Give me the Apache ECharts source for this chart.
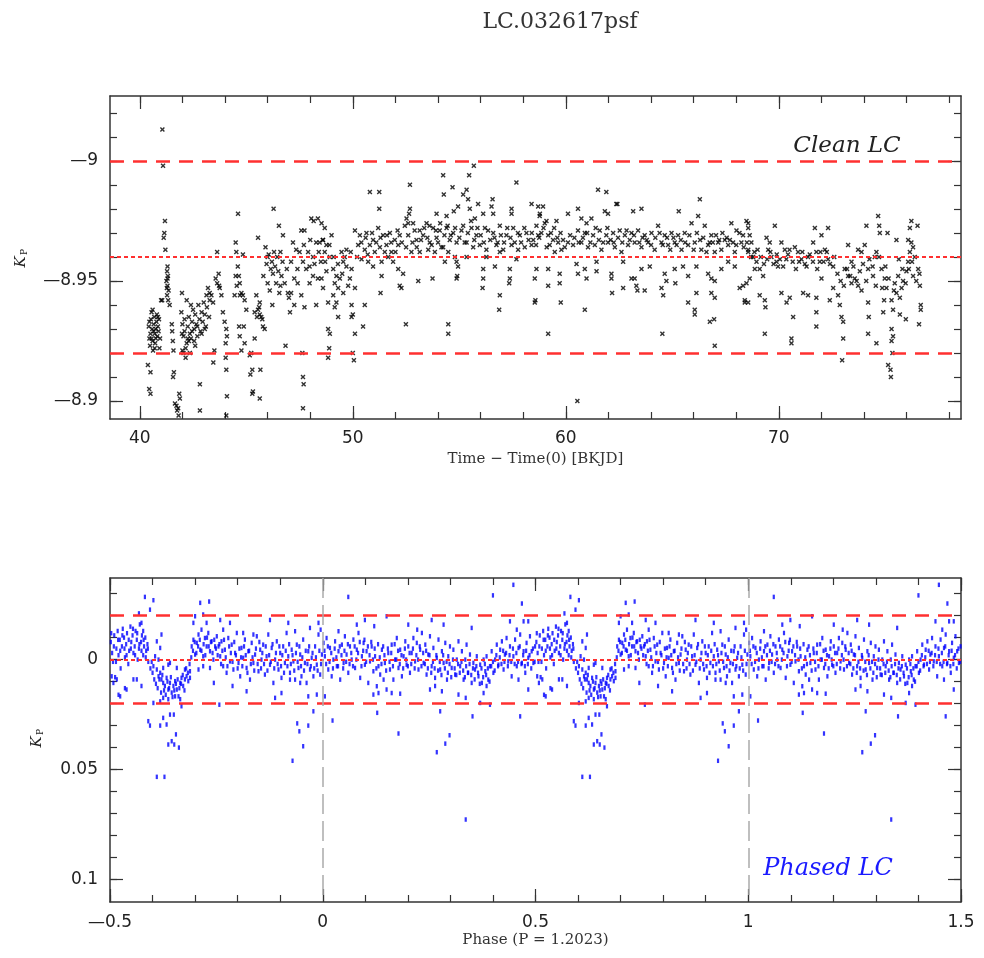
<!DOCTYPE html>
<html>
<head>
<meta charset="utf-8">
<script src="https://cdn.jsdelivr.net/npm/echarts@6/dist/echarts.min.js"></script>
<style>
  html, body { margin: 0; padding: 0; background: #fff; }
  #main { width: 984px; height: 958px; }
</style>
</head>
<body>
<div id="main"></div>
<script>
// 数据：光变曲线 (时间, 星等)
const cleanLC = [
  [40.42,-8.931],[40.45,-8.926],[40.48,-8.923],[40.5,-8.928],[40.52,-8.934],[40.55,-8.937],[40.58,-8.930],[40.6,-8.925],[40.62,-8.921],[40.65,-8.932],[40.68,-8.935],[40.7,-8.928],[40.72,-8.924],[40.75,-8.930],[40.78,-8.933],[40.8,-8.936],[40.82,-8.927],[40.85,-8.931],[40.88,-8.929],[40.9,-8.934],[40.92,-8.922],[40.95,-8.926],[40.6,-8.938],[40.7,-8.922],
  [40.55,-8.926],[40.65,-8.929],[40.75,-8.926],[40.85,-8.935],[40.45,-8.933],
  [40.38,-8.915],[40.5,-8.912],[40.44,-8.905],[40.5,-8.903],
  [41.06,-9.013],[41.09,-8.998],[41.18,-8.975],[41.15,-8.970],[41.12,-8.968],[41.2,-8.963],
  [41.28,-8.954],[41.32,-8.952],[41.25,-8.950],[41.3,-8.948],[41.35,-8.946],[41.28,-8.944],[41.33,-8.942],[41.3,-8.956],[41.4,-8.940],[41.0,-8.942],[41.05,-8.942],[41.3,-8.951],[41.27,-8.947],
  [41.5,-8.932],[41.52,-8.929],[41.55,-8.925],[41.58,-8.921],[41.6,-8.912],[41.56,-8.910],
  [41.65,-8.899],[41.72,-8.898],[41.8,-8.897],[41.85,-8.903],[41.88,-8.901],[41.75,-8.896],[41.82,-8.894],
  [41.95,-8.937],[42.0,-8.932],[42.05,-8.927],[42.1,-8.929],[42.15,-8.922],[42.2,-8.924],[42.25,-8.931],[42.3,-8.935],[42.35,-8.928],[42.4,-8.926],[42.45,-8.933],[42.5,-8.938],[42.55,-8.930],[42.6,-8.936],[42.65,-8.932],[42.7,-8.927],[42.75,-8.940],[42.8,-8.934],[42.85,-8.929],[42.9,-8.937],[42.95,-8.933],[43.0,-8.941],[43.05,-8.936],[43.1,-8.931],[43.15,-8.939],[43.25,-8.935],[42.05,-8.920],[42.15,-8.918],[42.0,-8.921],[42.3,-8.925],[42.6,-8.923],[42.4,-8.940],[42.2,-8.942],[41.98,-8.945],
  [42.1,-8.934],[42.25,-8.926],[42.45,-8.929],[42.55,-8.925],[42.7,-8.931],[42.9,-8.928],[43.05,-8.930],[41.98,-8.928],[42.35,-8.920],
  [42.82,-8.907],[42.82,-8.896],[43.45,-8.916],[43.5,-8.921],
  [43.2,-8.947],[43.28,-8.945],[43.36,-8.944],[43.44,-8.941],[43.13,-8.944],[43.28,-8.942],
  [43.63,-8.962],[43.7,-8.953],[43.56,-8.951],[43.63,-8.949],[43.72,-8.948],[43.75,-8.947],[43.83,-8.944],
  [43.9,-8.937],[43.98,-8.933],[44.06,-8.930],[44.09,-8.927],[44.03,-8.924],[44.03,-8.918],[44.06,-8.913],[44.09,-8.902],[44.06,-8.894],
  [44.5,-8.966],[44.53,-8.962],[44.6,-8.956],[44.5,-8.952],[44.69,-8.949],[44.77,-8.945],[44.84,-8.944],[44.92,-8.942],[44.45,-8.944],[44.84,-8.961],[44.61,-8.978],[44.55,-8.948],[44.65,-8.952],[44.7,-8.944],
  [44.66,-8.931],[44.69,-8.927],[44.77,-8.921],[44.92,-8.924],[44.88,-8.931],[45.0,-8.938],
  [45.16,-8.919],[45.23,-8.920],[45.28,-8.913],[45.19,-8.911],[45.31,-8.904],[45.28,-8.903],[45.39,-8.926],[45.47,-8.944],[45.55,-8.938],[45.63,-8.936],[45.7,-8.935],[45.78,-8.931],[45.86,-8.930],[45.39,-8.937],[45.63,-8.941],[45.55,-8.968],[45.66,-8.913],[45.63,-8.901],[45.6,-8.939],[45.75,-8.934],[45.5,-8.935],
  [45.9,-8.964],[46.05,-8.961],[46.2,-8.958],[46.35,-8.956],[46.5,-8.954],[46.65,-8.952],[46.8,-8.949],[45.95,-8.957],[46.25,-8.953],[46.4,-8.949],[46.15,-8.955],[46.6,-8.962],[46.7,-8.958],[46.0,-8.960],[46.45,-8.960],[46.1,-8.946],[46.55,-8.945],
  [46.28,-8.980],[46.53,-8.973],[46.72,-8.969],[46.22,-8.940],[46.84,-8.923],[46.95,-8.945],[47.0,-8.943],[47.05,-8.937],
  [47.19,-8.966],[47.34,-8.963],[47.5,-8.962],[47.66,-8.958],[47.81,-8.955],[47.97,-8.956],[48.13,-8.960],[48.28,-8.966],[48.44,-8.966],[48.59,-8.967],[47.58,-8.971],[47.73,-8.971],[48.05,-8.976],[48.16,-8.975],[48.36,-8.976],[47.25,-8.951],[47.41,-8.949],[47.58,-8.944],[47.73,-8.939],[47.97,-8.949],[48.13,-8.952],[48.36,-8.951],[48.28,-8.940],[47.1,-8.945],[47.25,-8.940],[47.63,-8.920],[47.66,-8.910],[47.69,-8.907],[47.66,-8.897],[47.9,-8.962],[48.5,-8.958],
  [45.8,-8.952],[46.0,-8.949],[46.3,-8.962],[46.6,-8.948],[46.9,-8.955],[47.1,-8.958],[47.4,-8.955],[47.7,-8.965],[48.0,-8.967],[48.2,-8.957],[48.4,-8.962],[48.7,-8.958],[48.9,-8.965],[49.1,-8.960],[49.3,-8.957],[49.5,-8.953],[49.7,-8.956],[49.9,-8.962],
  [48.53,-8.974],[48.68,-8.972],[48.6,-8.967],[48.76,-8.965],[49.0,-8.969],[48.68,-8.962],[48.92,-8.960],[48.53,-8.951],[48.6,-8.947],[48.76,-8.954],[49.08,-8.955],[49.23,-8.952],[49.39,-8.951],[49.55,-8.958],[49.7,-8.963],[49.47,-8.962],[49.62,-8.960],[49.15,-8.949],[49.31,-8.947],[49.08,-8.944],[49.23,-8.941],[49.15,-8.939],[48.84,-8.941],[49.55,-8.945],[49.86,-8.951],[49.78,-8.948],[49.94,-8.955],[50.1,-8.947],[49.31,-8.935],[48.84,-8.930],[48.92,-8.928],[48.89,-8.922],[48.84,-8.918],[49.94,-8.940],[50.0,-8.936],[49.94,-8.935],[50.1,-8.928],[50.0,-8.920],[50.05,-8.917],[50.48,-8.931],[50.56,-8.940],
  [50.1,-8.971],[50.33,-8.969],[50.64,-8.970],[50.95,-8.967],[51.19,-8.972],[51.42,-8.969],[51.74,-8.970],[51.97,-8.967],[52.2,-8.969],[50.25,-8.965],[50.56,-8.963],[50.8,-8.965],[51.03,-8.962],[51.27,-8.964],[51.58,-8.965],[51.81,-8.962],[52.13,-8.965],[50.41,-8.959],[50.72,-8.958],[50.95,-8.956],[51.35,-8.958],[51.66,-8.960],[51.89,-8.958],[50.8,-8.987],[51.24,-8.987],[51.24,-8.980],[51.35,-8.952],[51.3,-8.945],[52.2,-8.948],[52.28,-8.947],[52.49,-8.932],[52.68,-8.990],[52.68,-8.980],[52.64,-8.978],[52.6,-8.974],[52.13,-8.955],[52.36,-8.953],[52.44,-8.973],
  [50.2,-8.960],[50.4,-8.966],[50.6,-8.968],[50.7,-8.961],[50.9,-8.970],[51.1,-8.966],[51.3,-8.968],[51.5,-8.962],[51.6,-8.969],[51.8,-8.966],[52.0,-8.962],[52.1,-8.971],[52.3,-8.966],[52.5,-8.964],[52.6,-8.969],[52.8,-8.966],[52.9,-8.971],
  [52.83,-8.974],[53.14,-8.971],[53.46,-8.974],[53.77,-8.972],[54.08,-8.971],[54.4,-8.972],[54.71,-8.970],[52.99,-8.967],[53.3,-8.969],[53.61,-8.966],[53.93,-8.968],[54.24,-8.964],[54.55,-8.967],[54.87,-8.966],[52.75,-8.962],[53.14,-8.962],[53.54,-8.963],[53.85,-8.962],[54.16,-8.964],[54.48,-8.962],[53.07,-8.950],[53.74,-8.951],[53.93,-8.978],[54.24,-8.994],[54.27,-8.986],[54.68,-8.989],[54.4,-8.977],[54.74,-8.979],[54.94,-8.981],[54.32,-8.958],[54.87,-8.958],[54.9,-8.952],[54.48,-8.932],[54.48,-8.928],[52.52,-8.976],
  [53.0,-8.964],[53.2,-8.967],[53.35,-8.972],[53.5,-8.968],[53.6,-8.973],[53.7,-8.965],[53.9,-8.971],[54.0,-8.966],[54.1,-8.974],[54.3,-8.969],[54.45,-8.973],[54.6,-8.969],[54.8,-8.972],[55.0,-8.968],
  [55.18,-8.986],[55.46,-8.994],[55.68,-8.998],[55.34,-8.988],[55.41,-8.984],[55.49,-8.980],[55.88,-8.982],[55.73,-8.976],[56.12,-8.978],[56.56,-8.984],[56.51,-8.981],[56.59,-8.978],[55.18,-8.973],[55.57,-8.972],[55.8,-8.969],[56.2,-8.972],[56.59,-8.970],[56.9,-8.973],[57.21,-8.969],[57.53,-8.972],[57.84,-8.969],[58.15,-8.970],[58.47,-8.967],[55.34,-8.966],[55.65,-8.964],[55.96,-8.965],[56.27,-8.963],[56.74,-8.965],[57.06,-8.963],[57.45,-8.965],[57.76,-8.963],[58.07,-8.964],[58.39,-8.965],[58.7,-8.969],[55.34,-8.960],[56.27,-8.960],[56.9,-8.962],[57.68,-8.959],[56.12,-8.955],[56.09,-8.947],[56.12,-8.951],[56.67,-8.956],[56.9,-8.944],[56.87,-8.938],[57.37,-8.955],[57.37,-8.951],[57.34,-8.949],[57.68,-8.991],[57.45,-8.980],[57.45,-8.978],[58.39,-8.982],[58.78,-8.978],[58.54,-8.941],[54.87,-8.951],[54.94,-8.956],[54.79,-8.960],
  [55.1,-8.971],[55.25,-8.966],[55.4,-8.970],[55.55,-8.975],[55.7,-8.967],[55.85,-8.972],[56.0,-8.969],[56.15,-8.966],[56.35,-8.971],[56.45,-8.967],[56.65,-8.968],[56.8,-8.966],[56.95,-8.969],[57.1,-8.966],[57.25,-8.972],[57.4,-8.968],[57.6,-8.966],[57.75,-8.970],[57.9,-8.966],[58.05,-8.972],[58.25,-8.967],[58.4,-8.970],[58.6,-8.965],[58.75,-8.968],
  [58.7,-8.981],[58.93,-8.981],[58.77,-8.977],[59.01,-8.974],[58.62,-8.973],[58.85,-8.970],[59.17,-8.969],[59.4,-8.967],[59.64,-8.966],[59.87,-8.967],[60.1,-8.966],[60.34,-8.965],[59.24,-8.965],[59.48,-8.962],[59.79,-8.963],[59.09,-8.975],[59.56,-8.975],[60.1,-8.978],[60.57,-8.980],[60.73,-8.976],[60.97,-8.974],[61.2,-8.976],[61.51,-8.988],[61.83,-8.979],[61.98,-8.978],[62.37,-8.982],
  [58.95,-8.972],[59.1,-8.964],[59.3,-8.970],[59.45,-8.972],[59.6,-8.968],[59.75,-8.970],[59.95,-8.964],[60.2,-8.969],[60.4,-8.968],[60.6,-8.966],[60.8,-8.968],[61.0,-8.970],[61.15,-8.966],[61.4,-8.972],[61.55,-8.967],[61.75,-8.966],[61.95,-8.972],[62.1,-8.967],[62.25,-8.966],[62.45,-8.968],[62.65,-8.966],[62.85,-8.971],
  [60.57,-8.971],[60.89,-8.970],[61.28,-8.969],[61.59,-8.971],[61.9,-8.969],[62.22,-8.970],[62.53,-8.971],[62.77,-8.969],[63.08,-8.970],[63.39,-8.971],[63.7,-8.969],[64.02,-8.970],[64.33,-8.973],[64.64,-8.969],[64.96,-8.970],[65.27,-8.969],[65.58,-8.970],[65.9,-8.974],[66.21,-8.977],[66.52,-8.973],[66.83,-8.969],[67.15,-8.966],[67.46,-8.967],[67.77,-8.974],[68.01,-8.971],[68.32,-8.969],[68.56,-8.974],
  [60.73,-8.966],[61.04,-8.964],[61.36,-8.965],[61.67,-8.963],[61.98,-8.966],[62.3,-8.964],[62.61,-8.962],[62.92,-8.965],[63.23,-8.966],[63.55,-8.964],[63.86,-8.966],[64.17,-8.963],[64.49,-8.966],[64.8,-8.965],[65.11,-8.966],[65.43,-8.963],[65.74,-8.965],[66.05,-8.966],[66.36,-8.963],[66.68,-8.965],[66.99,-8.962],[67.3,-8.963],[67.62,-8.965],[67.93,-8.962],[68.24,-8.966],[68.56,-8.963],
  [63.0,-8.967],[63.2,-8.969],[63.45,-8.966],[63.6,-8.968],[63.8,-8.967],[64.0,-8.965],[64.2,-8.968],[64.4,-8.970],[64.55,-8.965],[64.75,-8.968],[64.9,-8.963],[65.05,-8.968],[65.2,-8.965],[65.4,-8.967],[65.6,-8.966],[65.8,-8.969],[66.0,-8.963],[66.15,-8.970],[66.3,-8.967],[66.45,-8.968],[66.6,-8.962],[66.75,-8.966],[66.9,-8.966],[67.05,-8.969],[67.2,-8.967],[67.35,-8.970],[67.55,-8.968],[67.7,-8.967],[67.85,-8.966],[68.0,-8.965],[68.15,-8.970],[68.35,-8.964],
  [61.9,-8.987],[62.42,-8.982],[63.16,-8.979],[63.55,-8.980],[65.3,-8.979],[66.29,-8.984],[58.62,-8.955],[58.54,-8.951],[58.57,-8.942],[59.17,-8.955],[59.17,-8.948],[59.71,-8.953],[59.71,-8.949],[59.76,-8.941],[59.17,-8.928],[60.5,-8.957],[60.57,-8.953],[60.89,-8.955],[60.97,-8.951],[60.89,-8.938],[61.44,-8.958],[61.44,-8.954],[62.14,-8.953],[62.14,-8.951],[62.17,-8.945],[62.69,-8.958],[62.69,-8.947],[63.08,-8.951],[63.23,-8.951],[63.31,-8.948],[63.36,-8.946],[63.7,-8.946],[63.55,-8.955],[63.94,-8.956],[64.49,-8.947],[64.57,-8.944],[64.53,-8.928],[64.64,-8.953],[64.72,-8.950],[65.11,-8.955],[65.14,-8.949],[65.5,-8.956],[65.74,-8.952],[65.74,-8.941],[66.05,-8.938],[66.05,-8.936],[66.13,-8.945],[66.13,-8.956],[66.68,-8.953],[66.83,-8.951],[66.99,-8.950],[66.83,-8.945],[66.99,-8.943],[66.76,-8.933],[66.96,-8.934],[66.99,-8.923],[67.3,-8.955],[67.62,-8.958],[67.93,-8.956],[68.16,-8.947],[68.32,-8.948],[68.4,-8.942],[68.56,-8.941],[60.54,-8.900],
  [68.48,-8.975],[68.56,-8.972],[68.63,-8.969],[68.71,-8.966],[68.56,-8.962],[68.79,-8.960],[68.95,-8.958],[69.1,-8.955],[69.26,-8.952],[68.87,-8.955],[68.63,-8.951],[68.48,-8.949],[68.4,-8.941],[69.1,-8.944],[69.34,-8.942],[69.37,-8.939],[69.34,-8.928],[69.42,-8.968],[69.57,-8.966],[69.5,-8.963],[69.65,-8.960],[69.81,-8.973],[69.89,-8.958],[69.96,-8.956],[70.12,-8.966],[70.28,-8.963],[70.43,-8.961],[70.12,-8.945],[70.36,-8.941],[70.51,-8.943],[70.67,-8.935],[70.59,-8.926],[70.59,-8.924],
  [68.5,-8.966],[68.7,-8.960],[68.85,-8.962],[69.0,-8.963],[69.15,-8.960],[69.3,-8.957],[69.45,-8.959],[69.6,-8.962],[69.75,-8.957],[69.9,-8.961],[70.05,-8.959],[70.2,-8.956],[70.35,-8.959],[70.5,-8.963],[70.65,-8.958],[70.8,-8.955],[70.95,-8.958],[71.1,-8.962],[71.3,-8.956],[71.45,-8.961],[71.6,-8.958],[71.8,-8.955],[71.95,-8.962],[72.1,-8.958],[72.25,-8.962],[72.4,-8.957],[72.6,-8.960],
  [70.75,-8.964],[70.9,-8.962],[71.06,-8.959],[71.22,-8.957],[71.37,-8.960],[71.14,-8.945],[71.37,-8.944],[71.69,-8.972],[71.61,-8.966],[71.76,-8.962],[72.0,-8.969],[72.31,-8.972],[72.16,-8.963],[71.92,-8.958],[71.76,-8.943],[71.76,-8.937],[71.76,-8.931],[72.0,-8.951],[72.31,-8.959],[72.55,-8.956],[72.39,-8.942],[72.55,-8.947],[72.78,-8.944],[72.86,-8.940],[72.94,-8.935],[73.02,-8.933],[73.02,-8.926],[72.97,-8.917],
  [73.09,-8.955],[73.25,-8.952],[73.41,-8.949],[73.56,-8.951],[73.72,-8.948],[73.88,-8.946],[73.41,-8.958],[73.72,-8.963],[73.88,-8.962],[73.25,-8.965],[74.03,-8.965],[74.11,-8.973],[74.19,-8.955],[74.19,-8.941],[74.22,-8.935],[74.19,-8.928],[74.42,-8.952],[74.5,-8.960],[74.58,-8.962],[74.66,-8.977],[74.71,-8.973],[74.74,-8.970],[75.1,-8.970],[74.82,-8.955],[74.97,-8.951],[75.05,-8.947],[74.94,-8.942],[74.9,-8.937],[74.58,-8.924],
  [72.75,-8.953],[72.9,-8.950],[73.05,-8.948],[73.2,-8.955],[73.35,-8.952],[73.5,-8.956],[73.65,-8.950],[73.8,-8.954],[73.95,-8.957],[74.1,-8.950],[74.25,-8.959],[74.4,-8.956],[74.55,-8.948],[74.7,-8.960],[74.85,-8.947],[75.0,-8.956],[75.15,-8.951],[75.4,-8.946],[75.6,-8.952],[75.8,-8.955],[75.95,-8.949],[76.1,-8.955],[76.25,-8.958],[76.45,-8.950],[76.6,-8.953],
  [75.29,-8.942],[75.36,-8.938],[75.29,-8.930],[75.36,-8.927],[75.29,-8.925],[75.33,-8.920],[75.13,-8.915],[75.24,-8.913],[75.26,-8.910],[75.52,-8.967],[75.63,-8.959],[75.44,-8.949],[75.52,-8.945],[75.68,-8.943],[75.76,-8.947],[75.68,-8.936],[75.96,-8.934],[75.83,-8.950],[75.99,-8.954],[76.07,-8.958],[76.15,-8.962],[76.07,-8.967],[76.22,-8.966],[76.3,-8.964],[76.15,-8.972],[76.22,-8.975],[76.51,-8.973],[76.38,-8.960],[76.54,-8.955],[76.62,-8.948],[76.66,-8.940],[76.66,-8.938],[76.58,-8.932],[76.3,-8.952]
];

// 相位折叠后的光变曲线 (相位 -0.5..0.5, 星等残差)
const phasedLC = [
  [-0.498,-0.008],[-0.495,-0.003],[-0.493,0.001],[-0.49,-0.011],[-0.488,0.008],[-0.485,-0.005],[-0.482,-0.013],[-0.48,-0.002],[-0.477,-0.009],[-0.475,0.004],[-0.472,-0.006],[-0.47,-0.014],[-0.467,-0.01],[-0.465,-0.001],[-0.462,-0.007],[-0.46,-0.012],[-0.457,0.002],[-0.455,-0.004],[-0.452,-0.015],[-0.45,-0.008],[-0.447,-0.011],[-0.445,-0.003],[-0.442,-0.006],[-0.44,-0.013],[-0.437,-0.009],[-0.435,0.0],[-0.432,-0.005],[-0.43,-0.016],[-0.427,-0.008],[-0.425,-0.011],[-0.422,-0.002],[-0.42,-0.006],[-0.417,-0.01],[-0.415,-0.004],[-0.412,-0.007],[-0.41,0.001],
  [-0.497,-0.012],[-0.491,-0.006],[-0.486,0.001],[-0.481,-0.009],[-0.476,-0.004],[-0.471,-0.011],[-0.466,-0.005],[-0.461,-0.002],[-0.456,-0.009],[-0.451,-0.005],[-0.446,-0.014],[-0.441,-0.002],[-0.436,-0.012],[-0.431,-0.007],[-0.426,-0.004],[-0.421,-0.009],[-0.416,-0.001],[-0.411,-0.005],
  [-0.418,-0.0285],[-0.398,-0.027],[-0.406,-0.0227],[-0.432,-0.021],[-0.426,-0.0167],[-0.422,-0.013],[-0.484,0.009],[-0.476,0.0167],[-0.48,0.016],[-0.465,0.013],[-0.461,0.0136],[-0.445,0.009],[-0.437,0.009],[-0.426,0.012],[-0.496,0.0076],[-0.492,0.0106],
  [-0.402,0.001],[-0.398,0.003],[-0.39,0.0045],[-0.386,0.0076],[-0.382,0.006],[-0.379,0.009],[-0.375,0.0106],[-0.371,0.012],[-0.367,0.0083],[-0.363,0.0136],[-0.359,0.0106],[-0.355,0.015],[-0.351,0.012],[-0.347,0.0098],[-0.343,0.0136],[-0.339,0.0167],[-0.335,0.0106],[-0.332,0.0083],[-0.328,0.012],[-0.324,0.009],[-0.32,0.0076],[-0.316,0.0098],[-0.312,0.0083],[-0.375,0.0174],[-0.363,0.018],[-0.347,0.0167],[-0.335,0.018],[-0.332,0.0212],[-0.398,0.0197],[-0.382,0.019],[-0.386,0.0],[-0.375,0.0038],[-0.394,-0.0015],[-0.382,-0.0053],[-0.39,-0.0083],[-0.379,-0.0114],[-0.363,0.0023],[-0.343,0.0038],[-0.324,0.0045],[-0.312,0.0053],[-0.359,0.0015],
  [-0.405,0.004],[-0.4,0.006],[-0.396,0.009],[-0.392,0.011],[-0.388,0.013],[-0.384,0.009],[-0.38,0.015],[-0.377,0.007],[-0.373,0.014],[-0.369,0.016],[-0.365,0.01],[-0.361,0.013],[-0.357,0.008],[-0.353,0.017],[-0.349,0.014],[-0.345,0.011],[-0.341,0.009],[-0.337,0.013],[-0.333,0.011],[-0.329,0.007],[-0.325,0.014],[-0.321,0.004],[-0.317,0.006],[-0.313,0.002],
  [-0.41,0.028],[-0.406,0.03],[-0.382,0.03],[-0.375,0.0265],[-0.367,0.0295],[-0.359,0.025],[-0.35,0.025],[-0.345,0.034],[-0.363,0.0386],[-0.355,0.0371],[-0.349,0.0386],[-0.338,0.04],[-0.39,0.0533],[-0.372,0.0533],
  [-0.308,-0.006],[-0.304,-0.009],[-0.3,-0.0023],[-0.296,-0.0076],[-0.292,-0.0114],[-0.288,-0.0045],[-0.285,-0.0136],[-0.281,-0.0015],[-0.277,-0.0098],[-0.273,-0.006],[-0.269,-0.0121],[-0.265,-0.0038],[-0.261,-0.0083],[-0.257,0.0],[-0.253,-0.006],[-0.249,-0.0106],[-0.304,-0.0167],[-0.3,-0.0197],[-0.288,-0.0258],[-0.267,-0.0264],[-0.281,-0.0205],[-0.273,-0.0167],[-0.292,0.0045],[-0.281,0.003],[-0.265,0.0038],[-0.256,0.0106],[-0.243,0.0205],
  [-0.309,-0.001],[-0.305,-0.004],[-0.301,-0.008],[-0.297,-0.003],[-0.293,-0.006],[-0.289,-0.009],[-0.285,-0.004],[-0.28,-0.007],[-0.276,-0.002],[-0.272,-0.01],[-0.268,-0.006],[-0.263,-0.008],[-0.259,-0.003],[-0.255,-0.009],[-0.251,-0.005],
  [-0.245,-0.006],[-0.241,-0.0015],[-0.238,-0.0083],[-0.234,0.003],[-0.23,-0.0045],[-0.226,0.006],[-0.222,-0.0098],[-0.218,0.0008],[-0.214,-0.0068],[-0.21,0.0045],[-0.206,-0.003],[-0.202,-0.0121],[-0.198,0.0015],[-0.194,0.0076],[-0.191,-0.0053],[-0.187,-0.0008],[-0.183,-0.0091],[-0.179,0.0038],[-0.175,-0.0038],[-0.171,0.0091],[-0.167,-0.0076],[-0.163,0.0015],[-0.159,-0.0023],[-0.155,-0.0106],[-0.151,0.0053],[-0.147,-0.0045],[-0.144,0.0],[-0.14,-0.0068],[-0.136,0.0068],[-0.132,-0.0015],[-0.128,-0.0114],[-0.124,0.0023],[-0.12,-0.0053],[-0.116,0.0106],[-0.112,0.0],[-0.108,-0.0083],[-0.104,0.0045],[-0.1,-0.003],[-0.097,0.0083],[-0.093,-0.006],[-0.089,0.0015],[-0.085,-0.0121],[-0.081,-0.0015],[-0.077,0.006],[-0.073,-0.0045],[-0.069,0.0008],[-0.065,0.0091],[-0.061,-0.0068],[-0.057,0.0038],[-0.053,-0.0023],[-0.05,0.0076],[-0.046,-0.0091],[-0.042,0.0015],[-0.038,0.0106],[-0.034,-0.0038],[-0.03,0.0045],[-0.026,-0.0008],[-0.022,0.0076],[-0.018,-0.006],[-0.014,0.0023],[-0.01,-0.0114],[-0.006,0.0068],[-0.002,-0.0023],
  [-0.247,-0.002],[-0.243,-0.007],[-0.239,0.002],[-0.236,-0.004],[-0.232,-0.009],[-0.228,-0.001],[-0.224,0.003],[-0.22,-0.006],[-0.216,-0.003],[-0.212,0.001],[-0.208,-0.008],[-0.204,-0.002],[-0.2,0.004],[-0.196,-0.005],[-0.192,-0.001],[-0.189,0.003],[-0.185,-0.006],[-0.181,-0.002],[-0.177,0.006],[-0.173,-0.004],[-0.169,0.002],[-0.165,-0.001],[-0.161,0.005],[-0.157,-0.005],[-0.153,0.002],[-0.149,-0.008],[-0.145,0.004],[-0.142,-0.003],[-0.138,0.002],[-0.134,-0.006],[-0.13,0.005],[-0.126,-0.002],[-0.122,0.001],[-0.118,-0.007],[-0.114,0.004],[-0.11,-0.003],[-0.106,0.002],[-0.102,-0.006],[-0.098,0.003],[-0.095,-0.002],[-0.091,0.006],[-0.087,-0.004],[-0.083,0.003],[-0.079,-0.007],[-0.075,0.002],[-0.071,-0.002],[-0.067,0.005],[-0.063,-0.003],[-0.059,0.001],[-0.055,-0.006],[-0.051,0.003],[-0.048,-0.001],[-0.044,0.005],[-0.04,-0.004],[-0.036,0.002],[-0.032,-0.006],[-0.028,0.003],[-0.024,-0.003],[-0.02,0.004],[-0.016,-0.001],[-0.012,0.005],[-0.008,-0.004],[-0.004,0.002],
  [-0.241,-0.018],[-0.234,-0.0136],[-0.218,-0.0167],[-0.187,-0.0121],[-0.163,-0.0114],[-0.124,-0.018],[-0.081,-0.0167],[-0.065,-0.0129],[-0.03,-0.0144],[-0.01,-0.0167],[-0.005,-0.0136],[-0.212,0.012],[-0.179,0.0144],[-0.112,0.0174],[-0.097,0.0152],[-0.077,0.0091],[-0.053,0.0106],[-0.034,0.0167],[-0.014,0.0159],[-0.022,0.0235],[-0.06,0.029],[-0.055,0.0326],[-0.034,0.03],[-0.046,0.0394],[-0.071,0.046],
  [0.002,-0.0076],[0.005,-0.0015],[0.009,-0.0098],[0.013,0.0045],[0.017,-0.0053],[0.021,0.0076],[0.025,0.0],[0.029,-0.0083],[0.033,0.003],[0.037,-0.0038],[0.041,0.0091],[0.045,-0.0068],[0.049,0.0015],[0.052,-0.0106],[0.056,-0.0023],[0.06,0.006],[0.064,-0.006],[0.068,0.0],[0.072,-0.0091],[0.076,0.0038],[0.08,-0.0045],[0.084,-0.0121],[0.088,0.0083],[0.092,-0.0015],[0.096,-0.0076],[0.099,0.0023],[0.103,-0.0038],[0.107,0.0106],[0.111,0.0008],[0.115,-0.006],[0.119,0.0053],[0.123,-0.0015],[0.127,0.0121],[0.131,0.003],[0.135,0.0068],[0.139,-0.0045],[0.143,0.0091],[0.146,0.0015],[0.15,0.0136],[0.154,-0.003],[0.158,0.0045],[0.162,-0.0068],[0.166,0.0091],[0.17,0.0],[0.174,-0.0098],[0.178,0.0038],[0.182,-0.0045],[0.186,0.0076],[0.19,-0.0015],[0.194,-0.0083],[0.197,0.0023],[0.201,-0.006],[0.205,0.006],[0.209,-0.003],[0.213,-0.0098],[0.217,0.0008],[0.221,-0.0076],[0.225,0.0045],[0.229,-0.0045],[0.233,-0.0121],[0.237,0.0015],[0.241,-0.0068],[0.244,0.0068],[0.248,-0.0023],[0.252,-0.0106],[0.256,0.003],[0.26,-0.0053],[0.264,0.0083],[0.268,-0.0008],[0.272,-0.0091],[0.276,0.0045],[0.28,-0.0038],[0.284,0.0015],[0.288,-0.0076],[0.292,0.0091],[0.295,-0.0015],[0.299,-0.006],[0.303,0.0038],[0.307,-0.0045],[0.311,0.0068],[0.315,0.0],[0.319,-0.0083],[0.323,0.003],[0.327,-0.0038],[0.331,0.0091],[0.335,0.0],[0.338,-0.0068],[0.342,0.006],[0.346,-0.0023],[0.35,0.0106],[0.354,0.0015],[0.358,0.0045],[0.362,-0.0015],[0.366,0.0076],[0.37,0.0023],[0.374,0.0106],[0.378,0.0],[0.382,0.0053],[0.385,-0.0015],[0.389,0.0091],[0.393,0.003],[0.397,-0.0038],[0.401,0.006],[0.405,0.0],[0.409,-0.0068],[0.413,0.0023],[0.417,-0.0045],[0.421,-0.0083],[0.425,0.0045],[0.428,-0.0023],[0.432,-0.0098],[0.436,0.0008],[0.44,-0.006],[0.444,0.0076],[0.448,-0.0015],[0.452,-0.0091],[0.456,0.003],[0.46,-0.0053],[0.464,-0.0114],[0.468,0.0015],[0.472,-0.0038],[0.476,0.006],[0.479,-0.0076],[0.483,-0.0008],[0.487,-0.0106],[0.491,-0.0038],[0.495,0.0015],[0.499,-0.006],
  [0.004,-0.004],[0.008,0.002],[0.012,-0.006],[0.016,0.001],[0.02,-0.003],[0.024,0.004],[0.028,-0.005],[0.032,-0.001],[0.036,0.003],[0.04,-0.006],[0.044,-0.002],[0.048,0.004],[0.051,-0.004],[0.055,0.001],[0.059,-0.007],[0.063,0.002],[0.067,-0.003],[0.071,0.003],[0.075,-0.006],[0.079,0.0],[0.083,-0.003],[0.087,-0.008],[0.091,0.003],[0.095,-0.004],[0.098,-0.009],[0.102,0.001],[0.106,-0.006],[0.11,-0.002],[0.114,-0.008],[0.118,0.0],[0.122,-0.005],[0.126,0.004],[0.13,-0.007],[0.134,-0.001],[0.138,0.002],[0.142,-0.006],[0.145,-0.002],[0.149,0.005],[0.153,-0.005],[0.157,0.001],[0.161,-0.003],[0.165,0.003],[0.169,-0.007],[0.173,0.0],[0.177,-0.004],[0.181,0.002],[0.185,-0.002],[0.189,0.004],[0.193,-0.005],[0.196,0.0],[0.2,0.003],[0.204,-0.003],[0.208,0.002],[0.212,-0.005],[0.216,0.004],[0.22,-0.002],[0.224,0.0],[0.228,-0.006],[0.232,0.003],[0.236,-0.003],[0.24,0.002],[0.243,-0.004],[0.247,0.004],[0.251,-0.002],[0.255,0.006],[0.259,0.001],[0.263,0.004],[0.267,-0.002],[0.271,0.005],[0.275,0.001],[0.279,0.007],[0.283,-0.002],[0.287,0.004],[0.291,0.001],[0.294,0.006],[0.298,0.002],[0.302,0.008],[0.306,0.0],[0.31,0.004],[0.314,0.007],[0.318,0.002],[0.322,0.006],[0.326,0.001],[0.33,0.005],[0.334,0.008],[0.337,0.003],[0.341,0.006],[0.345,0.002],[0.349,0.007],[0.353,0.004],[0.357,0.009],[0.361,0.003],[0.365,0.006],[0.369,0.011],[0.373,0.004],[0.377,0.008],[0.381,0.002],[0.384,0.007],[0.388,0.004],[0.392,0.01],[0.396,0.003],[0.4,0.001],[0.404,0.005],[0.408,-0.002],[0.412,0.003],[0.416,-0.001],[0.42,0.002],[0.424,-0.004],[0.427,0.001],[0.431,-0.003],[0.435,0.003],[0.439,-0.002],[0.443,0.001],[0.447,-0.005],[0.451,0.002],[0.455,-0.003],[0.459,0.001],[0.463,-0.006],[0.467,0.002],[0.471,-0.002],[0.475,0.003],[0.478,-0.004],[0.482,0.002],[0.486,-0.002],[0.49,0.004],[0.494,-0.005],[0.498,0.001],
  [0.37,0.0197],[0.378,0.0152],[0.385,0.012],[0.393,0.0205],[0.06,-0.0285],[0.4,-0.0292],[0.448,-0.034],[0.468,-0.0255],[0.08,-0.0159],[0.099,-0.018],[0.15,-0.0197],[0.121,-0.0152],[0.201,-0.0159],[0.222,-0.0136],[0.256,-0.018],[0.284,-0.0159],[0.35,-0.0144],[0.44,-0.0174],[0.472,-0.0174],[0.483,-0.0174],[0.456,-0.0136],[0.037,-0.0129],
  [0.005,0.0167],[0.023,0.0277],[0.128,0.0242],[0.178,0.0336],[0.276,0.0235],[0.298,0.0344],[0.288,0.0382],[0.268,0.0421],[0.352,0.0258],[0.464,0.0258],[0.119,0.0159],[0.131,0.0152],[0.162,0.0152],[0.182,0.0155],[0.252,0.0136],[0.264,0.012],[0.28,0.0144],[0.319,0.0159],[0.336,0.0174],[0.483,0.0136],[0.46,0.0091],[0.336,0.0727]
];

// 参考线与刻度
const cleanBand = [-9, -8.92];
const cleanMean = -8.96;
const phasedBand = [-0.022, 0.022];
const phasedMean = 0;
const phaseMarks = [0, 1];
const timeTicks = [40, 50, 60, 70];
const magTicks = [-9, -8.95, -8.9];
const phaseTicks = [-0.5, 0, 0.5, 1, 1.5];
const residTicks = [0, 0.05, 0.1];

function range(from, to, step) {
  var out = [];
  for (var v = from; v <= to + step / 2; v += step) out.push(Math.round(v * 1000) / 1000);
  return out;
}

var red = '#ff3030';
var ink = '#333';
var fmt = function (v) { return String(v).replace('-', '\u2014'); };

// 四边框 + 主/次刻度
function axisSet(kind, grid, min, max, majors, minors, extra) {
  var sides = kind === 'x' ? ['bottom', 'top'] : ['left', 'right'];
  var list = [];
  sides.forEach(function (side, s) {
    [majors, minors].forEach(function (vals, m) {
      var ax = {
        type: 'value', gridIndex: grid, position: side, min: min, max: max,
        inverse: kind === 'y',
        splitLine: { show: false },
        axisLine: { show: m === 0, onZero: false, lineStyle: { color: ink, width: 1.5 } },
        axisTick: { show: true, inside: true, length: m === 0 ? 13 : 7, customValues: vals, lineStyle: { color: ink, width: 1.2 } },
        axisLabel: { show: false }
      };
      if (s === 0 && m === 0) Object.assign(ax, extra);
      list.push(ax);
    });
  });
  return list;
}

function labelStyle(vals, margin) {
  return { show: true, customValues: vals, formatter: fmt, margin: margin, fontFamily: 'DejaVu Sans', fontSize: 17, color: '#222' };
}

var nameStyle = { fontFamily: 'DejaVu Serif', fontSize: 15, color: '#333' };

var xAxes = axisSet('x', 0, 38.6, 78.55, timeTicks, range(40, 78, 2), {
  axisLabel: labelStyle(timeTicks, 11),
  name: 'Time \u2212 Time(0) [BKJD]', nameLocation: 'middle', nameGap: 33, nameTextStyle: nameStyle
}).concat(axisSet('x', 1, -0.5, 1.5, phaseTicks, range(-0.5, 1.5, 0.1), {
  axisLabel: labelStyle(phaseTicks, 12),
  name: 'Phase (P = 1.2023)', nameLocation: 'middle', nameGap: 31, nameTextStyle: nameStyle
}));

var yAxes = axisSet('y', 0, -9.027, -8.8925, magTicks, range(-9.02, -8.9, 0.01), {
  axisLabel: labelStyle(magTicks, 12)
}).concat(axisSet('y', 1, -0.0371, 0.1102, residTicks, range(-0.03, 0.1, 0.01), {
  axisLabel: labelStyle(residTicks, 12)
}));

function hLine(v, dotted) {
  return { yAxis: v, lineStyle: { color: red, width: dotted ? 2 : 2.5, type: dotted ? [4, 3] : [14, 9] } };
}

// 粗一点的 “×” 标记
var crossPath = 'path://M0,2L2,0L5,3L8,0L10,2L7,5L10,8L8,10L5,7L2,10L0,8L3,5Z';

var option = {
  animation: false,
  backgroundColor: '#fff',
  grid: [
    { left: 110, top: 96, width: 851, height: 323 },
    { left: 110, top: 578, width: 851, height: 324 }
  ],
  xAxis: xAxes,
  yAxis: yAxes,
  graphic: [
    { type: 'text', x: 560, y: 22, style: { text: 'LC.032617psf', font: '22px "DejaVu Serif"', fill: '#333', textAlign: 'center', textVerticalAlign: 'middle' } },
    { type: 'text', x: 847, y: 146, style: { text: 'Clean LC', font: 'italic 23px "DejaVu Serif"', fill: '#222', textAlign: 'center', textVerticalAlign: 'middle' } },
    { type: 'text', x: 828, y: 869, style: { text: 'Phased LC', font: 'italic 24px "DejaVu Serif"', fill: '#1a1aff', textAlign: 'center', textVerticalAlign: 'middle' } },
    { type: 'text', x: 21, y: 262, rotation: Math.PI / 2, style: { text: 'K', font: 'italic 15px "DejaVu Serif"', fill: '#222', textAlign: 'center', textVerticalAlign: 'middle' } },
    { type: 'text', x: 25, y: 252, rotation: Math.PI / 2, style: { text: 'P', font: '9px "DejaVu Serif"', fill: '#222', textAlign: 'center', textVerticalAlign: 'middle' } },
    { type: 'text', x: 37, y: 742, rotation: Math.PI / 2, style: { text: 'K', font: 'italic 15px "DejaVu Serif"', fill: '#222', textAlign: 'center', textVerticalAlign: 'middle' } },
    { type: 'text', x: 41, y: 732, rotation: Math.PI / 2, style: { text: 'P', font: '9px "DejaVu Serif"', fill: '#222', textAlign: 'center', textVerticalAlign: 'middle' } }
  ],
  series: [
    {
      name: 'Clean LC',
      type: 'scatter',
      xAxisIndex: 0,
      yAxisIndex: 0,
      data: cleanLC,
      symbol: crossPath,
      symbolSize: 5,
      itemStyle: { color: '#000' },
      markLine: {
        silent: true,
        symbol: ['none', 'none'],
        label: { show: false },
        data: [hLine(cleanBand[0]), hLine(cleanMean, true), hLine(cleanBand[1])]
      }
    },
    {
      name: 'Phased LC',
      type: 'scatter',
      xAxisIndex: 4,
      yAxisIndex: 4,
      // 相位图显示两个周期
      data: phasedLC.concat(phasedLC.map(function (p) { return [p[0] + 1, p[1]]; })),
      symbol: 'rect',
      symbolSize: [2.2, 4.5],
      itemStyle: { color: '#0000ff' },
      markLine: {
        silent: true,
        symbol: ['none', 'none'],
        label: { show: false },
        data: [hLine(phasedBand[0]), hLine(phasedMean, true), hLine(phasedBand[1])].concat(
          phaseMarks.map(function (v) {
            return { xAxis: v, lineStyle: { color: '#aaa', width: 1.5, type: [20, 7] } };
          })
        )
      }
    }
  ]
};

var chart = echarts.init(document.getElementById('main'));
chart.setOption(option);
</script>
</body>
</html>
